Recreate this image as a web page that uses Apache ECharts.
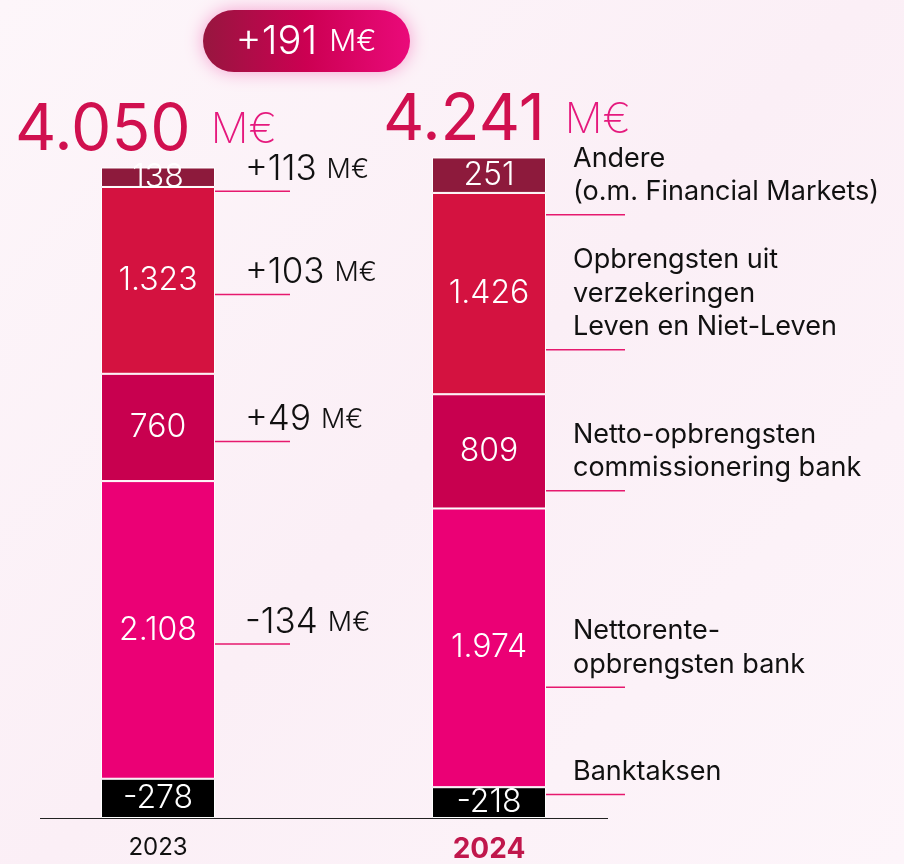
<!DOCTYPE html>
<html>
<head>
<meta charset="utf-8">
<style>
  html, body { margin: 0; padding: 0; background: #fcf3f9; }
  #chart { width: 904px; height: 864px; }
</style>
<script src="https://cdn.jsdelivr.net/npm/echarts@6/dist/echarts.min.js"></script>
</head>
<body>
<div id="chart"></div>
<script>
// categories
const years = ["2023", "2024"];
const segmentNames = [
  "Banktaksen",
  "Nettorente-\nopbrengsten bank",
  "Netto-opbrengsten\ncommissionering bank",
  "Opbrengsten uit\nverzekeringen\nLeven en Niet-Leven",
  "Andere\n(o.m. Financial Markets)",
];

// series values (M€), per segment, [2023, 2024]
const bankTax = [-278, -218];
const netInterest = [2108, 1974];
const netFees = [760, 809];
const insurance = [1323, 1426];
const other = [138, 251];

const totals = [4050, 4241];
const totalDelta = 191;
// change 2023 -> 2024 shown next to the 2023 bar (null = not shown)
const deltas = [null, -134, 49, 103, 113];

const segmentValues = [bankTax, netInterest, netFees, insurance, other];
const segmentColors = ["#000000", "#eb0075", "#c8004f", "#d41240", "#8d1a3c"];

const FONT = 'Inter, "Noto Sans", sans-serif';
const PINK_LINE = "#e6196e";

const fmt = (n) => {
  const s = String(Math.abs(n)).replace(/\B(?=(\d{3})+(?!\d))/g, ".");
  return (n < 0 ? "-" : "") + s;
};
const fmtSigned = (n) => (n > 0 ? "+" : "") + fmt(n);

const chart = echarts.init(document.getElementById("chart"));

const series = segmentValues.map((vals, si) => ({
  name: segmentNames[si],
  type: "bar",
  stack: "total",
  barWidth: 114,
  clip: false,
  data: vals.map((v) => Math.abs(v)),
  itemStyle: {
    color: segmentColors[si],
    borderColor: "#ffffff",
    borderWidth: 1,
  },
  label: {
    show: true,
    position: "inside",
    color: "#ffffff",
    fontFamily: FONT,
    fontWeight: 300,
    fontSize: 32,
    formatter: (p) => fmt(vals[p.dataIndex]),
  },
  emphasis: { disabled: true },
}));

chart.setOption({
  backgroundColor: new echarts.graphic.LinearGradient(0, 0, 1, 1, [
    { offset: 0, color: "#fdf6fa" },
    { offset: 0.5, color: "#fbeff6" },
    { offset: 1, color: "#fdf5fa" },
  ]),
  animation: false,
  grid: { left: 158, right: 415, top: 112, bottom: 46 },
  xAxis: {
    type: "category",
    data: years,
    boundaryGap: false,
    axisTick: { show: false },
    axisLine: { show: false },
    axisLabel: {
      margin: 18,
      formatter: (v, i) => (i === 1 ? "{b|" + v + "}" : "{a|" + v + "}"),
      rich: {
        a: { fontFamily: FONT, fontSize: 24, color: "#111", fontWeight: 400 },
        b: { fontFamily: FONT, fontSize: 28, color: "#c0174c", fontWeight: 700 },
      },
    },
  },
  yAxis: {
    type: "value",
    min: 0,
    max: 5000,
    show: false,
    splitLine: { show: false },
  },
  series: series,
});

// annotations placed through the chart's own scales
const px = (i, y) => chart.convertToPixel({ xAxisIndex: 0, yAxisIndex: 0 }, [i, y]);
const halfBar = 57;
const baseY = Math.round(px(0, 0)[1]) + 0.5;
const graphics = [];

// baseline
graphics.push({
  type: "line",
  z: 10,
  shape: { x1: px(0, 0)[0] - 118, y1: baseY, x2: px(1, 0)[0] + 119, y2: baseY },
  style: { stroke: "#222", lineWidth: 1 },
});

// cumulative bounds per year
const bounds = years.map((_, i) => {
  let acc = 0;
  return segmentValues.map((vals) => {
    const lo = acc;
    acc += Math.abs(vals[i]);
    return { lo: lo, hi: acc };
  });
});

// totals above the bars
const totalNudge = [-12, 18];
years.forEach((y, i) => {
  const top = bounds[i][bounds[i].length - 1].hi;
  const [cx, cy] = px(i, top);
  graphics.push({
    type: "text",
    x: cx + totalNudge[i],
    y: cy - 5,
    style: {
      text: "{n|" + fmt(totals[i]) + "}{u|M€}",
      align: "center",
      verticalAlign: "bottom",
      rich: {
        n: { fontFamily: FONT, fontSize: 64, fontWeight: 400, fill: "#d0104f", color: "#d0104f" },
        u: { fontFamily: FONT, fontSize: 42, fontWeight: 200, fill: "#e5197d", color: "#e5197d", padding: [0, 0, 0, 20] },
      },
    },
  });
});

// deltas next to the 2023 bar
deltas.forEach((d, si) => {
  if (d === null) return;
  const b = bounds[0][si];
  const [cx, my] = px(0, (b.lo + b.hi) / 2);
  const x0 = cx + halfBar;
  const ly = my + 14;
  graphics.push({
    type: "line",
    shape: { x1: x0, y1: ly, x2: x0 + 75, y2: ly },
    style: { stroke: PINK_LINE, lineWidth: 1.5 },
  });
  graphics.push({
    type: "text",
    x: x0 + 30,
    y: ly - 4,
    style: {
      text: "{n|" + fmtSigned(d) + "}{u|M€}",
      align: "left",
      verticalAlign: "bottom",
      rich: {
        n: { fontFamily: FONT, fontSize: 35, fontWeight: 300, fill: "#111", color: "#111" },
        u: { fontFamily: FONT, fontSize: 27, fontWeight: 300, fill: "#111", color: "#111", padding: [0, 0, 0, 10] },
      },
    },
  });
});

// segment names next to the 2024 bar
segmentNames.forEach((name, si) => {
  const b = bounds[1][si];
  const [cx, my] = px(1, (b.lo + b.hi) / 2);
  const x0 = cx + halfBar;
  const nLines = name.split("\n").length;
  const lh = 33.5;
  let ly = my + (nLines * lh) / 2 + 6;
  ly = Math.min(ly, baseY - 24);
  graphics.push({
    type: "line",
    shape: { x1: x0, y1: ly, x2: x0 + 79, y2: ly },
    style: { stroke: PINK_LINE, lineWidth: 1.5 },
  });
  graphics.push({
    type: "text",
    x: x0 + 27,
    y: ly - 6,
    style: {
      text: name,
      align: "left",
      verticalAlign: "bottom",
      fontFamily: FONT,
      fontSize: 27,
      fontWeight: 400,
      lineHeight: lh,
      fill: "#111",
    },
  });
});

// overall change pill
graphics.push({
  type: "group",
  x: 203,
  y: 10,
  children: [
    {
      type: "rect",
      shape: { x: 0, y: 0, width: 207, height: 62, r: 31 },
      style: {
        fill: new echarts.graphic.LinearGradient(0, 0, 1, 0, [
          { offset: 0, color: "#97163f" },
          { offset: 0.5, color: "#cc0052" },
          { offset: 1, color: "#ea0a7a" },
        ]),
        shadowBlur: 18,
        shadowColor: "rgba(230, 0, 126, 0.35)",
      },
    },
    {
      type: "text",
      x: 103,
      y: 32,
      style: {
        text: "{n|+" + totalDelta + "}{u|M€}",
        align: "center",
        verticalAlign: "middle",
        rich: {
          n: { fontFamily: FONT, fontSize: 40, fontWeight: 300, fill: "#fff", color: "#fff" },
          u: { fontFamily: FONT, fontSize: 30, fontWeight: 300, fill: "#fff", color: "#fff", padding: [0, 0, 0, 12] },
        },
      },
    },
  ],
});

chart.setOption({ graphic: graphics });

window.addEventListener("resize", () => chart.resize());
</script>
</body>
</html>
